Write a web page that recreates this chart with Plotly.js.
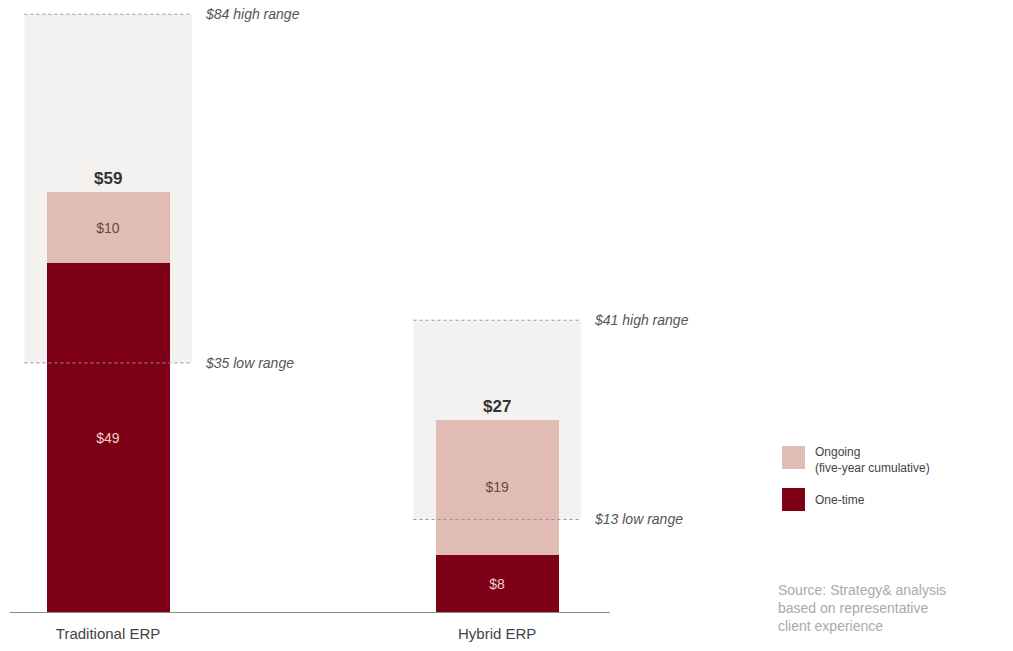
<!DOCTYPE html>
<html>
<head>
<meta charset="utf-8">
<script src="https://cdn.plot.ly/plotly-3.0.1.min.js"></script>
<style>html,body{margin:0;padding:0;background:#fff;}#chart{width:1013px;height:651px;}</style>
</head>
<body>
<div id="chart"></div>
<script>
// ---- data ----
const categories = ["Traditional ERP", "Hybrid ERP"];
const oneTime = [49, 8];
const ongoing = [10, 19];
const totals = [59, 27];
const lowRange = [35, 13];
const highRange = [84, 41];
const seriesNames = ["One-time", "Ongoing<br>(five-year cumulative)"];
const sourceText = "Source: Strategy& analysis<br>based on representative<br>client experience";

// ---- styles ----
const colOne = "#7e0016";
const colOn = "#e1bcb4";
const xs = categories.map((c, i) => i);
const barW = 0.316;
const boxHalf = 0.215;
const FONT = "Liberation Sans, Arial, sans-serif";

const traces = [
  {type: "bar", x: xs, y: oneTime, name: seriesNames[0], width: barW,
   marker: {color: colOne}, text: oneTime.map(v => "$" + v), textposition: "inside",
   insidetextanchor: "middle", textfont: {family: FONT, size: 14, color: "#f3cccc"},
   hoverinfo: "skip", showlegend: false},
  {type: "bar", x: xs, y: ongoing, name: seriesNames[1], width: barW,
   marker: {color: colOn}, text: ongoing.map(v => "$" + v), textposition: "inside",
   insidetextanchor: "middle", textfont: {family: FONT, size: 14, color: "#6a4744"},
   hoverinfo: "skip", showlegend: false}
];

const shapes = [];
const annotations = [];
xs.forEach((x, i) => {
  shapes.push({type: "rect", xref: "x", yref: "y", x0: x - boxHalf, x1: x + boxHalf,
    y0: lowRange[i], y1: highRange[i], fillcolor: "#f4f2f0", line: {width: 0}, layer: "below"});
  [lowRange[i], highRange[i]].forEach(v => {
    shapes.push({type: "line", xref: "x", yref: "y", x0: x - boxHalf, x1: x + boxHalf,
      y0: v, y1: v, line: {color: "#999", width: 1, dash: "dot"}, layer: "above"});
  });
  annotations.push({xref: "x", yref: "y", x: x + boxHalf + 0.03, y: highRange[i], xanchor: "left", yanchor: "middle",
    text: "<i>$" + highRange[i] + " high range</i>", showarrow: false,
    font: {family: FONT, size: 14, color: "#555"}});
  annotations.push({xref: "x", yref: "y", x: x + boxHalf + 0.03, y: lowRange[i], xanchor: "left", yanchor: "middle",
    text: "<i>$" + lowRange[i] + " low range</i>", showarrow: false,
    font: {family: FONT, size: 14, color: "#555"}});
  annotations.push({xref: "x", yref: "y", x: x, y: totals[i], xanchor: "center", yanchor: "bottom", yshift: 2,
    text: "<b>$" + totals[i] + "</b>", showarrow: false,
    font: {family: FONT, size: 17, color: "#333"}});
});

// custom legend (paper coords)
const W = 1013, H = 651, mL = 10, mR = 403, mT = 0, mB = 39;
const pw = W - mL - mR, ph = H - mT - mB;
const px = v => (v - mL) / pw;
const py = v => 1 - (v - mT) / ph;
const legendItems = [
  {name: seriesNames[1], color: colOn, top: 446, textY: 443, anchor: "top"},
  {name: seriesNames[0], color: colOne, top: 488, textY: 500, anchor: "middle"}
];
legendItems.forEach(it => {
  shapes.push({type: "rect", xref: "paper", yref: "paper", x0: px(782), x1: px(805),
    y0: py(it.top + 23), y1: py(it.top), fillcolor: it.color, line: {width: 0}});
  annotations.push({xref: "paper", yref: "paper", x: px(813), y: py(it.textY), xanchor: "left", yanchor: it.anchor,
    align: "left", text: it.name, showarrow: false,
    font: {family: FONT, size: 12, color: "#444"}});
});
annotations.push({xref: "paper", yref: "paper", x: px(776), y: py(580), xanchor: "left", yanchor: "top",
  align: "left", text: sourceText, showarrow: false,
  font: {family: FONT, size: 14, color: "#aaaaaa"}});

const layout = {
  width: W, height: H,
  margin: {l: mL, r: mR, t: mT, b: mB},
  barmode: "stack",
  paper_bgcolor: "#fff", plot_bgcolor: "#fff",
  showlegend: false,
  xaxis: {range: [-0.252, 1.29], tickvals: xs, ticktext: categories, showgrid: false, zeroline: false,
    showline: true, linecolor: "#888", linewidth: 1, ticks: "", ticklabelstandoff: 8,
    tickfont: {family: FONT, size: 15, color: "#444"}},
  yaxis: {range: [0, 86], visible: false, showgrid: false, zeroline: false},
  shapes: shapes,
  annotations: annotations
};

Plotly.newPlot("chart", traces, layout, {displayModeBar: false, staticPlot: true});
</script>
</body>
</html>
